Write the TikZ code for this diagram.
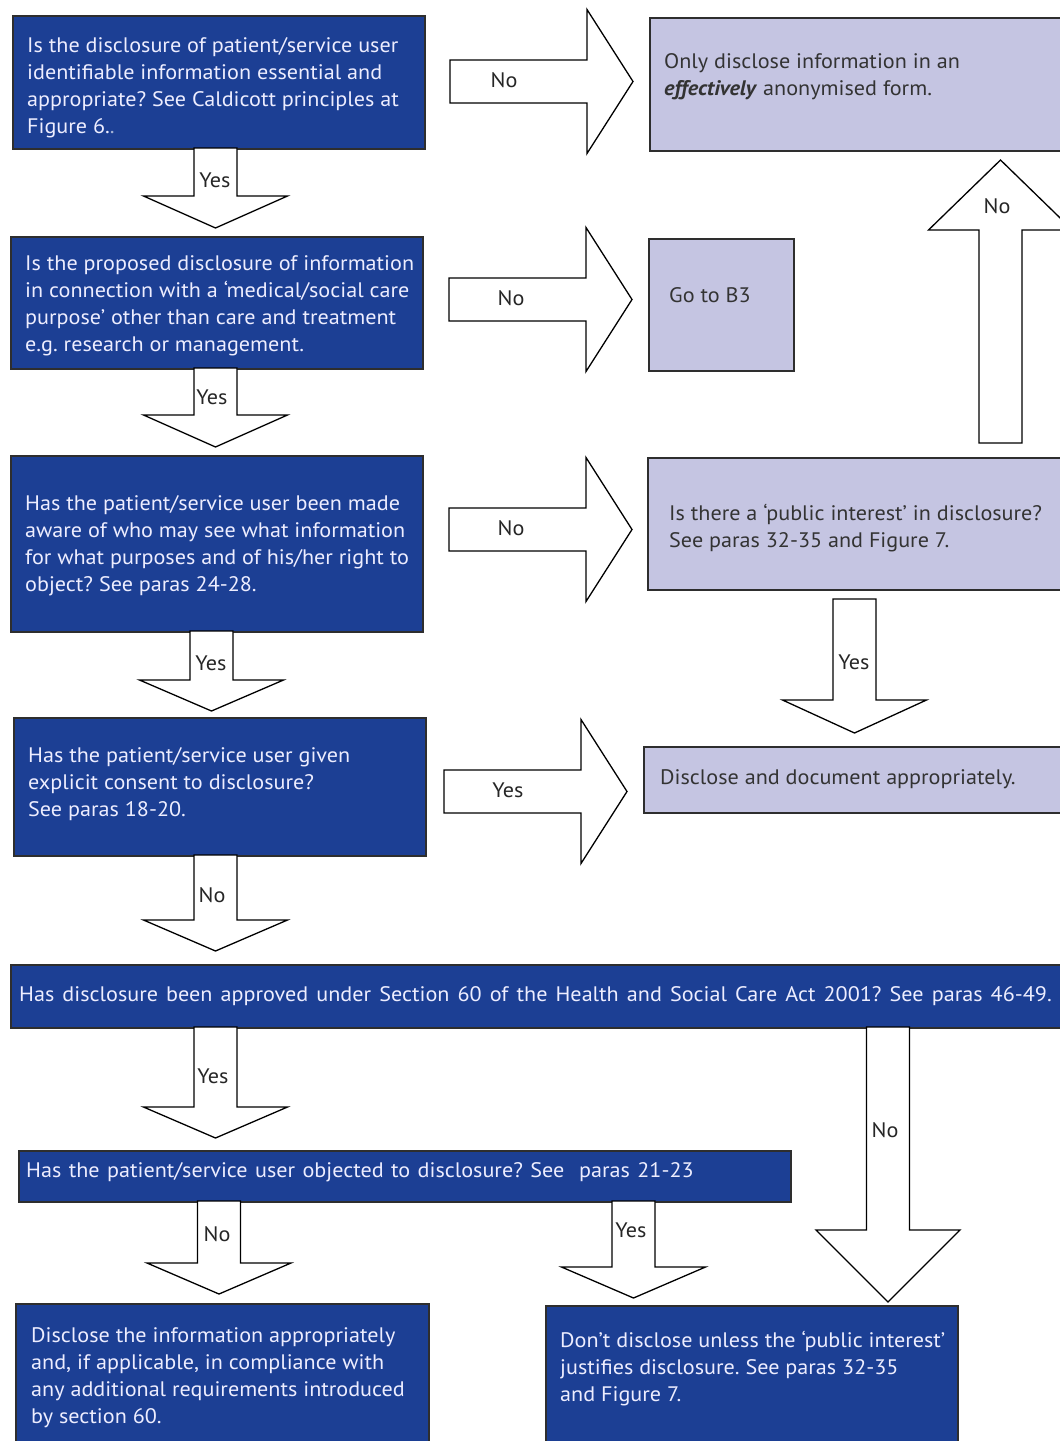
\documentclass[tikz,border=0pt]{standalone}
\usepackage{fontspec}
\setmainfont{PT Sans}[FakeStretch=1.055]
\usepackage{xcolor}
\definecolor{nhsblue}{HTML}{1C3F94}
\definecolor{lavender}{HTML}{C5C5E2}
\definecolor{edge}{HTML}{2E2E2E}
\frenchspacing

% block arrows: down/up (x, y tail, y head base, y tip), right (y, x tail, x head base, x tip)
\newcommand{\blkdn}[4]{\draw[blk] (#1-21.5,#2) -- (#1-21.5,#3) -- (#1-72,#3) -- (#1,#4) -- (#1+72,#3) -- (#1+21.5,#3) -- (#1+21.5,#2) -- cycle;}
\newcommand{\blkrt}[4]{\draw[blk] (#2,#1-21.5) -- (#3,#1-21.5) -- (#3,#1-72) -- (#4,#1) -- (#3,#1+72) -- (#3,#1+21.5) -- (#2,#1+21.5) -- cycle;}

\begin{document}
\begin{tikzpicture}[x=1pt, y=-1pt,
  darkbox/.style={draw=edge, line width=1.6pt, fill=nhsblue, anchor=north west, inner sep=0pt},
  lightbox/.style={draw=edge, line width=1.6pt, fill=lavender, anchor=north west, inner sep=0pt},
  darktxt/.style={anchor=west, align=left, inner sep=0pt, text=white!93!blue, font=\fontsize{21}{27}\selectfont},
  lighttxt/.style={anchor=west, align=left, inner sep=0pt, text=black!80, font=\fontsize{21}{27}\selectfont},
  blk/.style={draw=black, line width=1.3pt, fill=white, line join=miter},
  lbl/.style={text=black!85, font=\fontsize{21}{27}\selectfont, inner sep=1pt}]
\useasboundingbox (0,0) rectangle (1060,1441);
\clip (0,0) rectangle (1060,1441);

% left column questions
\node[darkbox, minimum width=412pt, minimum height=133pt] (q1) at (12,15) {};
\node[darktxt] (q1t) at ([shift={(15pt,-5pt)}]q1.west) {Is the disclosure of patient/service user\\identifiable information essential and\\appropriate? See Caldicott principles at\\Figure 6.\textcolor{white!60!nhsblue}{.}};
\node[darkbox, minimum width=412pt, minimum height=132pt] (q2) at (10,236) {};
\node[darktxt] (q2t) at ([shift={(15pt,-2.5pt)}]q2.west) {Is the proposed disclosure of information\\in connection with a ‘medical/social care\\purpose’ other than care and treatment\\e.g. research or management.};
\node[darkbox, minimum width=412pt, minimum height=176pt] (q3) at (10,455) {};
\node[darktxt] (q3t) at ([shift={(15pt,-1.5pt)}]q3.west) {Has the patient/service user been made\\aware of who may see what information\\for what purposes and of his/her right to\\object? See paras 24-28.};
\node[darkbox, minimum width=412pt, minimum height=138pt] (q4) at (13,717) {};
\node[darktxt] (q4t) at ([shift={(15pt,3pt)}]q4.west) {Has the patient/service user given\\explicit consent to disclosure?\\See paras 18-20.};
\node[darkbox, minimum width=1070pt, minimum height=63pt] (q5) at (10,964) {};
\node[darktxt] (q5t) at ([shift={(9pt,0pt)}]q5.west) {\spaceskip=8.1pt Has disclosure been approved under Section 60 of the Health and Social Care Act 2001? See paras 46-49.};
\node[darkbox, minimum width=772pt, minimum height=51pt] (q6) at (18,1150) {};
\node[darktxt] (q6t) at ([shift={(8pt,4pt)}]q6.west) {\spaceskip=7.4pt Has the patient/service user objected to disclosure? See\ \ paras 21-23};
\node[darkbox, minimum width=413pt, minimum height=160pt] (d1) at (15,1303) {};
\node[darktxt] (d1t) at ([shift={(16pt,6pt)}]d1.west) {Disclose the information appropriately\\and, if applicable, in compliance with\\any additional requirements introduced\\by section 60.};
\node[darkbox, minimum width=412pt, minimum height=160pt] (d2) at (545,1305) {};
\node[darktxt] (d2t) at ([shift={(15pt,17pt)}]d2.west) {Don’t disclose unless the ‘public interest’\\justifies disclosure. See paras 32-35\\and Figure 7.};

% right column
\node[lightbox, minimum width=430pt, minimum height=133pt] (r1) at (649,17) {};
\node[lighttxt] (r1t) at ([shift={(15pt,7.5pt)}]r1.west) {Only disclose information in an\\\textbf{\textit{effectively}} anonymised form.};
\node[lightbox, minimum width=145pt, minimum height=132pt] (r2) at (648,238) {};
\node[lighttxt] (r2t) at ([shift={(21pt,10pt)}]r2.west) {Go to B3};
\node[lightbox, minimum width=430pt, minimum height=132pt] (r3) at (647,457) {};
\node[lighttxt] (r3t) at ([shift={(22pt,-4.5pt)}]r3.west) {Is there a ‘public interest’ in disclosure?\\See paras 32-35 and Figure 7.};
\node[lightbox, minimum width=430pt, minimum height=66pt] (r4) at (643,746) {};
\node[lighttxt] (r4t) at ([shift={(17pt,1pt)}]r4.west) {Disclose and document appropriately.};

% down arrows
\blkdn{215.5}{148}{196}{228} \node[lbl] (y1) at (215,180) {Yes};
\blkdn{215.5}{368}{415}{447} \node[lbl] (y2) at (212,397) {Yes};
\blkdn{211.5}{631}{680}{711} \node[lbl] (y3) at (211,663) {Yes};
\blkdn{215.5}{855}{920}{951} \node[lbl] (n4) at (212,895) {No};
\blkdn{215.5}{1027}{1107}{1138} \node[lbl] (y5) at (213,1076) {Yes};
\blkdn{888}{1027}{1230}{1302} \node[lbl] (n5) at (885,1130) {No};
\blkdn{219}{1201}{1263}{1294} \node[lbl] (n6) at (217,1234) {No};
\blkdn{633.5}{1201}{1267}{1298} \node[lbl] (y6) at (631,1230) {Yes};
\blkdn{854.5}{599}{700}{733} \node[lbl] (yr3) at (854,662) {Yes};
\blkdn{1000.5}{443}{230}{160} \node[lbl] (nr3) at (997,206) {No};
% right arrows
\blkrt{81.5}{450}{587}{633} \node[lbl] (n1) at (504,80) {No};
\blkrt{299.5}{449}{586}{632} \node[lbl] (n2) at (511,298) {No};
\blkrt{529.5}{449}{586}{632} \node[lbl] (n3) at (511,528) {No};
\blkrt{791.5}{444}{581}{627} \node[lbl] (y4) at (508,790) {Yes};
\end{tikzpicture}
\end{document}
